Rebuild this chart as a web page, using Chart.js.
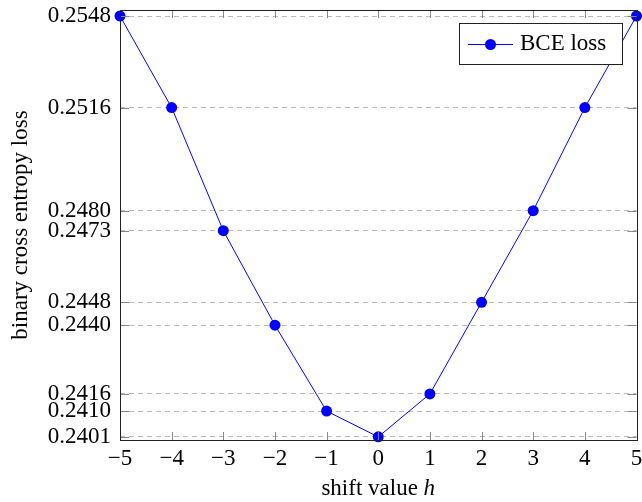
<!DOCTYPE html>
<html>
<head>
<meta charset="utf-8">
<script src="https://cdn.jsdelivr.net/npm/chart.js@4/dist/chart.umd.min.js"></script>
<style>
	body { margin: 0; background: #fff; }
	#wrap { width: 642px; height: 502px; }
</style>
</head>
<body>
<div id="wrap"><canvas id="chart" width="642" height="502"></canvas></div>
<script>
	// values
	var shiftValues = [ -5, -4, -3, -2, -1, 0, 1, 2, 3, 4, 5 ];
	var bceLoss = [ 0.2548, 0.2516, 0.2473, 0.2440, 0.2410, 0.2401, 0.2416,
			0.2448, 0.2480, 0.2516, 0.2548 ];
	var yTickValues = [ 0.2401, 0.2410, 0.2416, 0.2440, 0.2448, 0.2473,
			0.2480, 0.2516, 0.2548 ];
	var xTickValues = [ -5, -4, -3, -2, -1, 0, 1, 2, 3, 4, 5 ];

	var serif = "'Liberation Serif', 'DejaVu Serif', serif";
	var fontSize = 23;

	var points = [];
	for (var i = 0; i < shiftValues.length; i++) {
		points.push({ x : shiftValues[i], y : bceLoss[i] });
	}

	// frame, inside tick marks, axis titles and the boxed legend
	var decorPlugin = {
		id : 'decor',
		afterDraw : function(chart) {
			var ctx = chart.ctx;
			var area = chart.chartArea;
			var xs = chart.scales.x;
			var ys = chart.scales.y;
			ctx.save();
			ctx.strokeStyle = '#888';
			ctx.lineWidth = 1;
			ctx.beginPath();
			xTickValues.forEach(function(v) {
				var px = Math.round(xs.getPixelForValue(v)) + 0.5;
				ctx.moveTo(px, area.bottom);
				ctx.lineTo(px, area.bottom - 8);
				ctx.moveTo(px, area.top);
				ctx.lineTo(px, area.top + 8);
			});
			yTickValues.forEach(function(v) {
				var py = Math.round(ys.getPixelForValue(v)) + 0.5;
				ctx.moveTo(area.left, py);
				ctx.lineTo(area.left + 9, py);
				ctx.moveTo(area.right, py);
				ctx.lineTo(area.right - 9, py);
			});
			ctx.stroke();

			ctx.strokeStyle = '#222';
			ctx.strokeRect(Math.round(area.left) + 0.5, Math.round(area.top) + 0.5,
					Math.round(area.right - area.left), Math.round(area.bottom - area.top));

			// x title with italic h
			ctx.fillStyle = '#000';
			ctx.textBaseline = 'middle';
			ctx.textAlign = 'left';
			var plain = 'shift value ';
			ctx.font = fontSize + 'px ' + serif;
			var w1 = ctx.measureText(plain).width;
			ctx.font = 'italic ' + fontSize + 'px ' + serif;
			var w2 = ctx.measureText('h').width;
			var cx = (area.left + area.right) / 2;
			var sx = cx - (w1 + w2) / 2;
			ctx.font = fontSize + 'px ' + serif;
			ctx.fillText(plain, sx, 489);
			ctx.font = 'italic ' + fontSize + 'px ' + serif;
			ctx.fillText('h', sx + w1, 489);

			// y title
			ctx.save();
			ctx.translate(21, (area.top + area.bottom) / 2);
			ctx.rotate(-Math.PI / 2);
			ctx.textAlign = 'center';
			ctx.font = fontSize + 'px ' + serif;
			ctx.fillText('binary cross entropy loss', 0, 0);
			ctx.restore();

			// legend
			var ds = chart.data.datasets[0];
			ctx.fillStyle = '#fff';
			ctx.fillRect(459, 23, 163, 41);
			ctx.strokeStyle = '#222';
			ctx.strokeRect(459.5, 23.5, 163, 41);
			ctx.strokeStyle = ds.borderColor;
			ctx.lineWidth = 1;
			ctx.beginPath();
			ctx.moveTo(468, 44.5);
			ctx.lineTo(513, 44.5);
			ctx.stroke();
			ctx.fillStyle = ds.backgroundColor;
			ctx.beginPath();
			ctx.arc(490.5, 44.5, 5.5, 0, Math.PI * 2);
			ctx.fill();
			ctx.fillStyle = '#000';
			ctx.font = fontSize + 'px ' + serif;
			ctx.textAlign = 'left';
			ctx.fillText(ds.label, 520, 44);
			ctx.restore();
		}
	};

	var ctx = document.getElementById('chart');
	new Chart(ctx, {
		type : 'line',
		data : {
			datasets : [ {
				label : 'BCE loss',
				data : points,
				borderColor : '#0000ff',
				backgroundColor : '#0000ff',
				borderWidth : 1,
				pointRadius : 5.5,
				pointBorderWidth : 0,
				pointBackgroundColor : '#0000ff',
				tension : 0,
				clip : false
			} ]
		},
		plugins : [ decorPlugin ],
		options : {
			responsive : false,
			animation : false,
			layout : {
				padding : { left : 0, right : 4, top : 10, bottom : 0 }
			},
			plugins : {
				legend : { display : false },
				tooltip : { enabled : false }
			},
			scales : {
				x : {
					type : 'linear',
					min : -5,
					max : 5,
					afterBuildTicks : function(scale) {
						scale.ticks = xTickValues.map(function(v) {
							return { value : v };
						});
					},
					afterFit : function(scale) {
						scale.height = 62;
						scale.paddingLeft = 0;
						scale.paddingRight = 0;
					},
					grid : { display : false, drawTicks : false },
					border : { display : false },
					ticks : {
						padding : 5,
						color : '#000',
						maxRotation : 0,
						autoSkip : false,
						font : { family : serif, size : fontSize },
						callback : function(v) {
							return v < 0 ? '\u2212' + Math.abs(v) : String(v);
						}
					}
				},
				y : {
					min : 0.23999,
					max : 0.25501,
					afterBuildTicks : function(scale) {
						scale.ticks = yTickValues.map(function(v) {
							return { value : v };
						});
					},
					afterFit : function(scale) {
						scale.width = 120;
						scale.paddingTop = 0;
						scale.paddingBottom = 0;
					},
					grid : {
						color : '#bbb',
						lineWidth : 1,
						drawTicks : false
					},
					border : { display : false, dash : [ 5, 4 ] },
					ticks : {
						padding : 9,
						color : '#000',
						autoSkip : false,
						font : { family : serif, size : fontSize },
						callback : function(v) {
							return v.toFixed(4);
						}
					}
				}
			}
		}
	});
</script>
</body>
</html>
